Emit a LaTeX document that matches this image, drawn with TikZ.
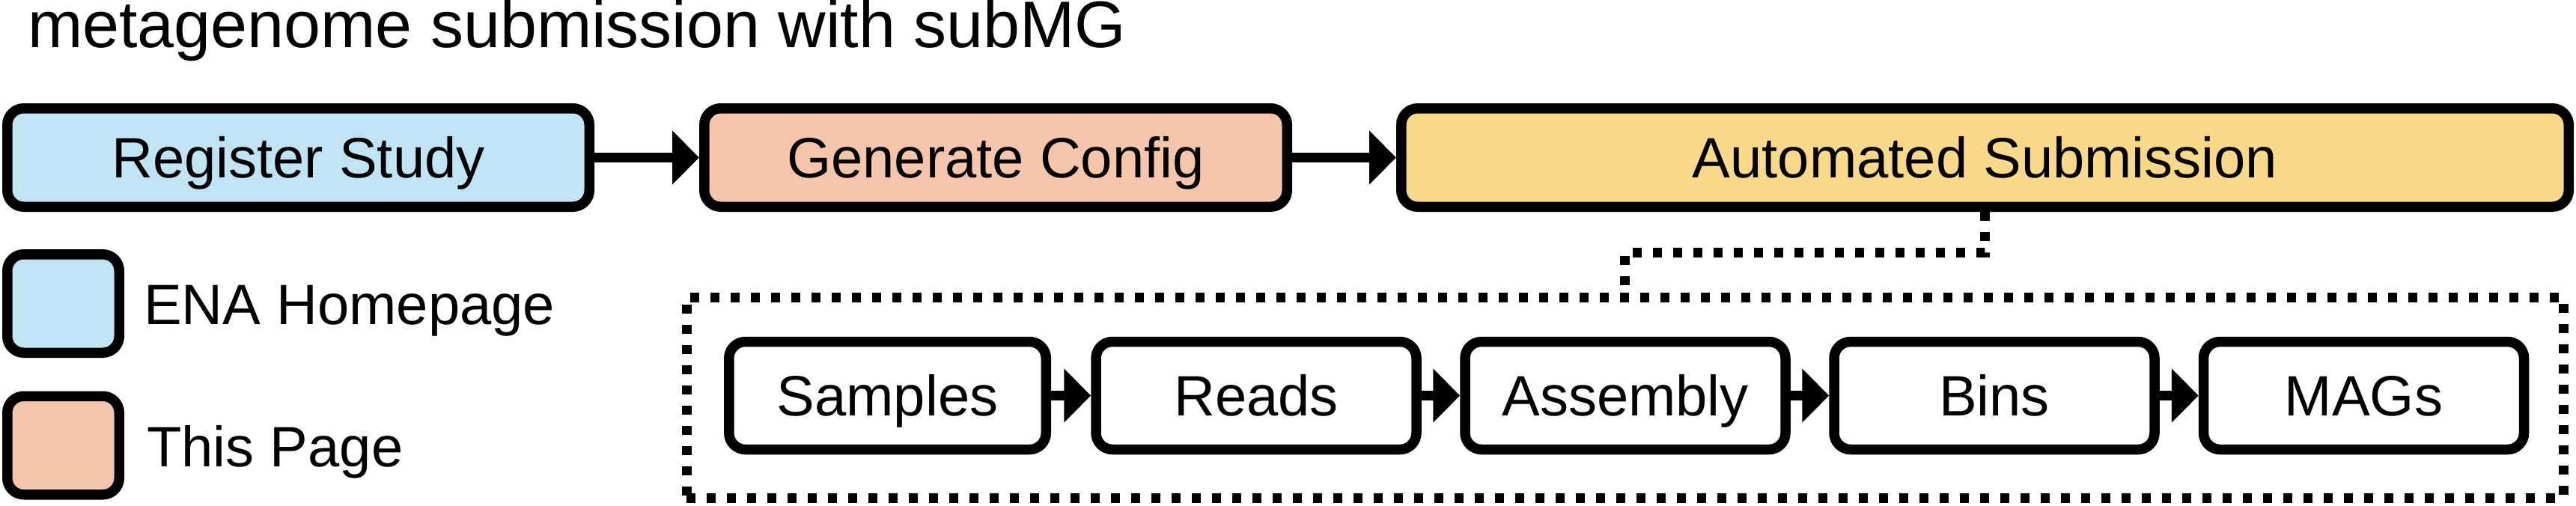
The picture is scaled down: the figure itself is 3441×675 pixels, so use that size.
\documentclass[tikz,border=0pt]{standalone}
\usepackage{fontspec}
\setmainfont{Liberation Sans}
\usetikzlibrary{arrows.meta}
\definecolor{boxblue}{RGB}{192,228,243}
\definecolor{boxorange}{RGB}{245,198,172}
\definecolor{boxyellow}{RGB}{250,218,138}
\begin{document}
\begin{tikzpicture}[x=1pt,y=-1pt,
  stepbox/.style={draw=black, line width=13.5pt, rounded corners=22pt,
    inner sep=0pt, font=\fontsize{76}{90}\selectfont,
    text height=54pt, text depth=0pt},
  bigbox/.style={stepbox, minimum height=131.5pt},
  smallbox/.style={stepbox, fill=white, minimum height=144pt, minimum width=428pt},
  legbox/.style={stepbox, minimum width=149.5pt, minimum height=131.5pt},
  legtext/.style={anchor=west, inner sep=0pt, font=\fontsize{76}{90}\selectfont,
    text height=54pt, text depth=0pt},
  flowarrow/.style={line width=13.5pt,
    -{Triangle[length=36pt,width=70pt]}},
  dotline/.style={line width=13pt, dash pattern=on 12pt off 15pt},
  container/.style={draw=black, dotline, inner sep=0pt,
    minimum width=2507pt, minimum height=268pt}
]
\useasboundingbox (0,0) rectangle (3441,675);

% title
\node[anchor=base west, inner sep=0pt, font=\fontsize{88}{100}\selectfont]
  (title) at (37,63) {metagenome submission with subMG};

% main flow
\node[bigbox, fill=boxblue, minimum width=777.5pt] (reg) at (398.5,210.5) {Register Study};
\node[bigbox, fill=boxorange, minimum width=778.5pt] (gen) at (1330,210.5) {Generate Config};
\node[bigbox, fill=boxyellow, minimum width=1559.5pt] (auto) at (2651.5,210.5) {Automated Submission};

\draw[flowarrow] (reg.east) -- (gen.west);
\draw[flowarrow] (gen.east) -- (auto.west);

% legend
\node[legbox, fill=boxblue] (legA) at (84.5,405.5) {};
\node[legbox, fill=boxorange] (legB) at (84.5,595) {};
\node[legtext] (legAt) at (192,406) {ENA Homepage};
\node[legtext] (legBt) at (196,596.5) {This Page};

% container with sub steps
\node[container] (cont) at (2170.5,531) {};
\coordinate (bend) at (2400,337);
\draw[dotline] (auto.south) -- (auto.south |- bend) -| (cont.north);

\node[smallbox, minimum width=423.5pt] (samples) at (1185.5,528.5) {Samples};
\node[smallbox] (reads) at (1678,528.5) {Reads};
\node[smallbox] (assembly) at (2171,528.5) {Assembly};
\node[smallbox] (bins) at (2664,528.5) {Bins};
\node[smallbox] (mags) at (3157.5,528.5) {MAGs};

\draw[flowarrow] (samples.east) -- (reads.west);
\draw[flowarrow] (reads.east) -- (assembly.west);
\draw[flowarrow] (assembly.east) -- (bins.west);
\draw[flowarrow] (bins.east) -- (mags.west);
\end{tikzpicture}
\end{document}
